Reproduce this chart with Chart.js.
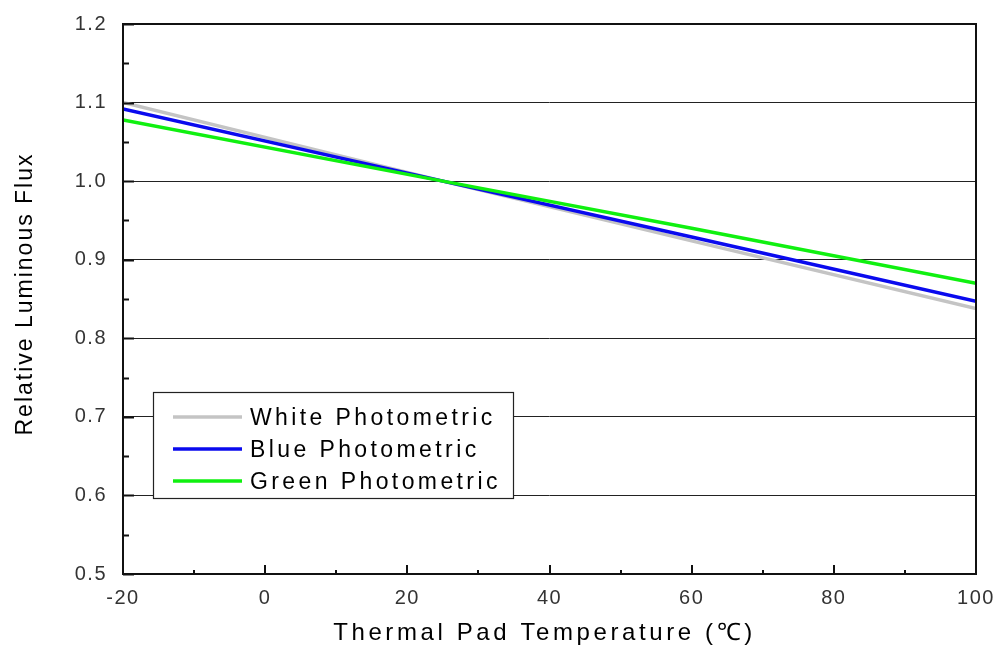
<!DOCTYPE html>
<html>
<head>
<meta charset="utf-8">
<script src="https://cdn.jsdelivr.net/npm/chart.js@4.4.1/dist/chart.umd.min.js"></script>
<style>
  html, body { margin: 0; padding: 0; background: #fff; }
  #wrap { width: 997px; height: 648px; }
</style>
</head>
<body>
<div id="wrap"><canvas id="flux-chart"></canvas></div>
<script>
// values
const temps = [-20, 25, 60, 100];
const whiteFlux = [1.100, 1.000, 0.924, 0.838];
const blueFlux = [1.092, 1.000, 0.929, 0.847];
const greenFlux = [1.078, 1.000, 0.940, 0.870];
const seriesNames = ['White Photometric', 'Blue Photometric', 'Green Photometric'];
const xTickLabels = [-20, 0, 20, 40, 60, 80, 100];
const yTickLabels = [0.5, 0.6, 0.7, 0.8, 0.9, 1.0, 1.1, 1.2];
const xTitle = 'Thermal Pad Temperature (℃)';
const yTitle = 'Relative Luminous Flux';

const FONT = "'Liberation Sans', Arial, sans-serif";
const CLEAR = 'rgba(0,0,0,0)';

function toPoints(ys) {
    return temps.map((t, i) => ({ x: t, y: ys[i] }));
}

function isLabelled(list, v) {
    return list.some(l => Math.abs(l - v) < 1e-6);
}

// inside tick marks, frame, axis titles and boxed legend
const framePlugin = {
    id: 'frame',
    beforeDraw(chart) {
        chart.ctx.letterSpacing = '1.5px';
    },
    afterDraw(chart) {
        const ctx = chart.ctx;
        const a = chart.chartArea;
        const xs = chart.scales.x, ys = chart.scales.y;
        ctx.save();
        ctx.strokeStyle = '#111';

        // y ticks, pointing right
        ys.ticks.forEach(t => {
            const py = Math.round(ys.getPixelForValue(t.value)) + 0.5;
            const major = isLabelled(yTickLabels, t.value);
            ctx.lineWidth = 2;
            ctx.beginPath();
            ctx.moveTo(a.left, py);
            ctx.lineTo(a.left + (major ? 11 : 6), py);
            ctx.stroke();
        });
        // x ticks, pointing up
        xs.ticks.forEach(t => {
            const px = Math.round(xs.getPixelForValue(t.value));
            const major = isLabelled(xTickLabels, t.value);
            ctx.lineWidth = 2;
            ctx.beginPath();
            ctx.moveTo(px, a.bottom);
            ctx.lineTo(px, a.bottom - (major ? 9 : 4));
            ctx.stroke();
        });

        // frame
        ctx.lineWidth = 2;
        ctx.strokeRect(a.left, a.top, a.right - a.left, a.bottom - a.top);

        // axis titles
        ctx.fillStyle = '#000';
        ctx.font = '24px ' + FONT;
        ctx.letterSpacing = '3.6px';
        ctx.textAlign = 'center';
        ctx.textBaseline = 'alphabetic';
        ctx.fillText(xTitle, (a.left + a.right) / 2 - 5, 640);

        ctx.save();
        ctx.font = '23px ' + FONT;
        ctx.letterSpacing = '2px';
        ctx.translate(32, (a.top + a.bottom) / 2 - 5);
        ctx.rotate(-Math.PI / 2);
        ctx.fillText(yTitle, 0, 0);
        ctx.restore();

        // legend
        const bx = a.left + 30, by = 392, bw = 360, bh = 106;
        ctx.fillStyle = '#fff';
        ctx.fillRect(bx, by, bw, bh);
        ctx.lineWidth = 1.2;
        ctx.strokeStyle = '#222';
        ctx.strokeRect(bx + 0.5, by + 0.5, bw, bh);
        ctx.font = '23px ' + FONT;
        ctx.letterSpacing = '3.4px';
        ctx.textAlign = 'left';
        chart.data.datasets.forEach((ds, i) => {
            const ly = by + 25 + i * 32;
            ctx.strokeStyle = ds.borderColor;
            ctx.lineWidth = 3.5;
            ctx.beginPath();
            ctx.moveTo(bx + 20, ly);
            ctx.lineTo(bx + 89, ly);
            ctx.stroke();
            ctx.fillStyle = '#000';
            ctx.fillText(ds.label, bx + 97, ly + 8);
        });
        ctx.restore();
    }
};

new Chart(document.getElementById('flux-chart'), {
    type: 'line',
    data: {
        datasets: [
            { label: seriesNames[0], data: toPoints(whiteFlux), borderColor: '#c4c4c4', order: 3 },
            { label: seriesNames[1], data: toPoints(blueFlux), borderColor: '#0a0aee', order: 2 },
            { label: seriesNames[2], data: toPoints(greenFlux), borderColor: '#10f010', order: 1 }
        ]
    },
    options: {
        responsive: true,
        maintainAspectRatio: false,
        animation: false,
        devicePixelRatio: 1,
        layout: { padding: { top: 24, right: 21, left: 0, bottom: 0 } },
        elements: {
            line: { borderWidth: 3.5, tension: 0, fill: false },
            point: { radius: 0, hoverRadius: 0 }
        },
        plugins: {
            legend: { display: false },
            tooltip: { enabled: false }
        },
        scales: {
            x: {
                type: 'linear',
                min: -20,
                max: 100,
                afterFit: s => { s.height = 74; },
                // invisible outer tick length only spaces the labels
                grid: { color: CLEAR, tickColor: CLEAR, drawTicks: true, tickLength: 12 },
                border: { display: false },
                ticks: {
                    stepSize: 10,
                    padding: 0,
                    autoSkip: false,
                    maxRotation: 0,
                    color: '#333',
                    font: { family: FONT, size: 20 },
                    callback: v => isLabelled(xTickLabels, v) ? String(v) : ''
                }
            },
            y: {
                min: 0.5,
                max: 1.2,
                afterFit: s => { s.width = 123; },
                grid: {
                    drawTicks: true,
                    tickLength: 16,
                    tickColor: CLEAR,
                    lineWidth: 1,
                    color: c => {
                        const v = c.tick ? c.tick.value : 0;
                        if (!isLabelled(yTickLabels, v) || v < 0.55 || v > 1.15) return CLEAR;
                        return '#222';
                    }
                },
                border: { display: false },
                ticks: {
                    stepSize: 0.05,
                    padding: 0,
                    autoSkip: false,
                    color: '#333',
                    font: { family: FONT, size: 20 },
                    callback: v => isLabelled(yTickLabels, v) ? v.toFixed(1) : ''
                }
            }
        }
    },
    plugins: [framePlugin]
});
</script>
</body>
</html>
